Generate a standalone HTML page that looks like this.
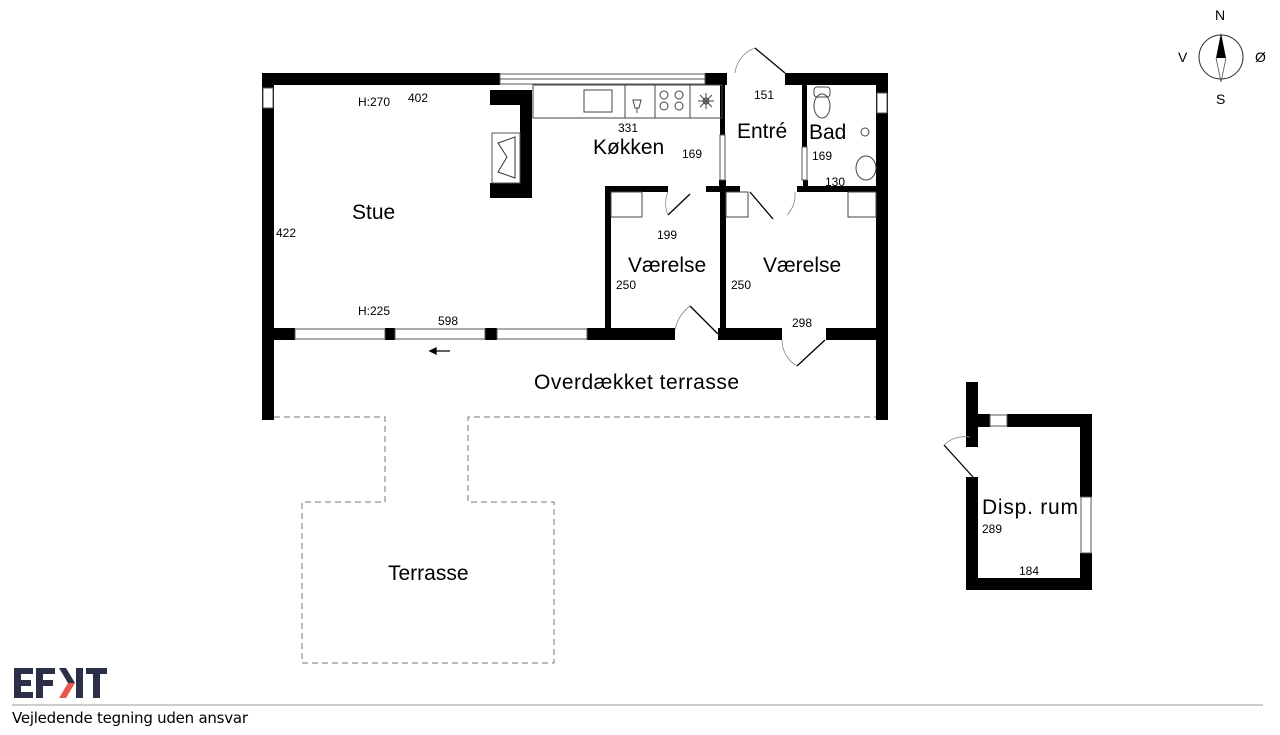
<!DOCTYPE html>
<html><head><meta charset="utf-8"><style>
body{margin:0;background:#fff;}
svg{display:block;}
text{font-family:"Liberation Sans",sans-serif;fill:#000;}
.c{font-family:"DejaVu Sans","Liberation Sans",sans-serif;}
</style></head><body>
<svg width="1280" height="735" viewBox="0 0 1280 735" xmlns="http://www.w3.org/2000/svg">
<g stroke="#777" stroke-width="1" stroke-dasharray="6,4" fill="none">
<path d="M274 417H385V502H302V663H554V502H468V417H876"/>
</g>
<g fill="#000">
<rect x="262" y="73" width="238" height="12"/>
<rect x="705" y="73" width="22" height="12"/>
<rect x="785" y="73" width="103" height="12"/>
<rect x="262" y="73" width="12" height="347"/>
<rect x="876" y="73" width="12" height="347"/>
<rect x="262" y="328" width="33" height="12"/>
<rect x="385" y="328" width="10" height="12"/>
<rect x="485" y="328" width="12" height="12"/>
<rect x="587" y="328" width="88" height="12"/>
<rect x="718" y="328" width="64" height="12"/>
<rect x="826" y="328" width="62" height="12"/>
<rect x="490" y="90" width="42" height="15"/>
<rect x="520" y="90" width="12" height="108"/>
<rect x="490" y="183" width="42" height="15"/>
<rect x="720" y="85" width="5" height="50"/>
<rect x="802" y="85" width="5" height="62"/>
<rect x="719" y="180" width="7" height="12"/>
<rect x="605" y="186" width="63" height="6"/>
<rect x="605" y="186" width="6" height="148"/>
<rect x="720" y="186" width="6" height="148"/>
<rect x="706" y="186" width="34" height="6"/>
<rect x="797" y="186" width="79" height="6"/>
<rect x="803" y="180" width="5" height="10"/>
<rect x="966" y="382" width="12" height="65"/>
<rect x="966" y="477" width="12" height="113"/>
<rect x="966" y="414" width="24" height="13"/>
<rect x="1007" y="414" width="85" height="13"/>
<rect x="1080" y="414" width="12" height="83"/>
<rect x="1080" y="553" width="12" height="37"/>
<rect x="966" y="578" width="126" height="12"/>
</g>
<g fill="#fff" stroke="#555" stroke-width="1">
<rect x="500" y="74" width="205" height="10"/><line x1="500" y1="79" x2="705" y2="79"/>
<rect x="263" y="88" width="10" height="20"/>
<rect x="877" y="93" width="10" height="20"/>
<rect x="295" y="329" width="90" height="10"/><rect x="395" y="329" width="90" height="10"/><rect x="497" y="329" width="90" height="10"/>
<rect x="990" y="415" width="17" height="11"/>
<rect x="1081" y="497" width="10" height="56"/>
<rect x="720" y="135" width="5" height="45"/>
<rect x="802" y="147" width="5" height="33"/>
</g>
<rect x="492" y="133" width="28" height="50" fill="#fff" stroke="#555"/>
<path d="M498 143L515 137V178L498 172L507 157Z" fill="none" stroke="#333"/>
<g fill="none" stroke="#444" stroke-width="1">
<rect x="533" y="85" width="189" height="33"/>
<line x1="625" y1="85" x2="625" y2="118"/><line x1="655" y1="85" x2="655" y2="118"/><line x1="690" y1="85" x2="690" y2="118"/>
<rect x="584" y="90" width="28" height="22"/>
<circle cx="664" cy="95" r="4"/><circle cx="679" cy="95" r="4"/><circle cx="664" cy="106" r="4"/><circle cx="679" cy="106" r="4"/>
<path d="M633 100h8l-2 8h-4zM637 108v5"/>
<circle cx="706" cy="101" r="3"/>
<path d="M700 95l12 12M712 95l-12 12M706 93v16M698 101h16"/>
<rect x="814" y="87" width="16" height="10" rx="3"/><ellipse cx="822" cy="106" rx="8" ry="12"/>
<ellipse cx="866" cy="168" rx="10" ry="12"/>
<circle cx="865" cy="132" r="4"/>
<rect x="611" y="192" width="31" height="25"/>
<rect x="726" y="192" width="22" height="25"/>
<rect x="848" y="192" width="28" height="25"/>
</g>
<g fill="none" stroke="#000" stroke-width="1.3">
<path d="M785 73L755 48" /><path d="M755 48A30 30 0 0 0 735 73" stroke="#888" stroke-width="0.8"/>
<path d="M668 215L690 194"/><path d="M668 215A30 30 0 0 1 668 192" stroke="#888" stroke-width="0.8"/>
<path d="M773 219L750 192"/><path d="M795 192A30 30 0 0 1 787 215" stroke="#888" stroke-width="0.8"/>
<path d="M718 334L690 306"/><path d="M690 306A40 40 0 0 0 675 330" stroke="#888" stroke-width="0.8"/>
<path d="M797 366L825 340"/><path d="M782 340A30 30 0 0 0 797 366" stroke="#888" stroke-width="0.8"/>
<path d="M973 477L944 445"/><path d="M944 445A30 30 0 0 1 970 437" stroke="#888" stroke-width="0.8"/>
<path d="M430 351H450"/><path d="M430 351l6-3v6z" fill="#000"/>
</g>
<g font-size="12">
<text x="358" y="106">H:270</text><text x="408" y="102">402</text>
<text x="618" y="132">331</text><text x="682" y="158">169</text>
<text x="754" y="99">151</text><text x="812" y="160">169</text><text x="825" y="186">130</text>
<text x="276" y="237">422</text><text x="657" y="239">199</text>
<text x="616" y="289">250</text><text x="731" y="289">250</text>
<text x="358" y="315">H:225</text><text x="438" y="325">598</text><text x="792" y="327">298</text>
<text x="982" y="533">289</text><text x="1019" y="575">184</text>
</g>
<g font-size="21" class="c">
<text x="352" y="219">Stue</text>
<text x="593" y="154">Køkken</text>
<text x="737" y="138">Entré</text>
<text x="809" y="139">Bad</text>
<text x="628" y="272">Værelse</text>
<text x="763" y="272">Værelse</text>
<text x="534" y="389" textLength="205">Overdækket terrasse</text>
<text x="388" y="580">Terrasse</text>
<text x="982" y="514" textLength="96">Disp. rum</text>
</g>
<circle cx="1221" cy="57" r="22" fill="none" stroke="#333"/>
<path d="M1221 33L1216 58H1226Z" fill="#000"/>
<path d="M1216 58L1221 82L1226 58" fill="none" stroke="#555" stroke-width="0.8"/>
<g font-size="14" class="c"><text x="1215" y="20">N</text><text x="1216" y="104">S</text><text x="1178" y="62">V</text><text x="1255" y="62">Ø</text></g>
<!-- logo -->
<g fill="#2b2f47">
<path d="M14 668H33V674H21V680H31V686H21V692H33V698H14Z"/>
<path d="M36 668H55V674H43V680H53V686H43V698H36Z"/>
<rect x="76" y="668" width="7" height="30"/>
<path d="M86 668H107V674H100V698H93V674H86Z"/>
<path d="M59 668H66L75 683H68Z"/>
</g>
<path d="M68 683H75L66 698H59Z" fill="#e8584f"/>
<line x1="12" y1="705" x2="1263" y2="705" stroke="#999" stroke-width="1"/>
<text x="12" y="723" font-size="15" class="c" textLength="236">Vejledende tegning uden ansvar</text>
</svg>
</body></html>
